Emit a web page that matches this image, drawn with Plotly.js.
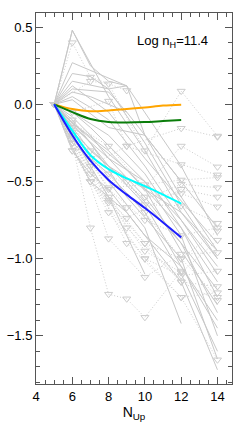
<!DOCTYPE html>
<html><head><meta charset="utf-8">
<script src="https://cdn.plot.ly/plotly-3.0.1.min.js"></script>
<style>html,body{margin:0;padding:0;background:#fff;}#chart{width:240px;height:428px;}</style>
</head><body><div id="chart"></div>
<script>
// Coloured model curves
const modelX = [5, 6, 7, 8, 9, 10, 11, 12];
const orangeY = [0, -0.03, -0.045, -0.04, -0.03, -0.02, -0.008, -0.002];
const greenY  = [0, -0.05, -0.095, -0.115, -0.118, -0.115, -0.108, -0.101];
const cyanY   = [0, -0.17, -0.33, -0.42, -0.48, -0.53, -0.585, -0.643];
const blueY   = [0, -0.2, -0.365, -0.49, -0.585, -0.672, -0.765, -0.862];

// Grey solid lines (x list, y list)
const solidX = [
  [5,6,8,10,12,14],[5,6,9,12,14],[5,6,7,8,9,10,12,14],[5,6,8,10,12,14],
  [5,6,7,9,12,14],[5,6,7,8,10,12,14],[5,6,8,10,12,14],[5,6,7,8,10,12,14],
  [5,6,8,10,12,14],[5,6,7,9,12,14],[5,6,8,10,12,14],[5,6,7,8,9,10],
  [5,6,8,10,12],[5,6,8,10,12,14],[5,6,7,9,12,14],[5,6,7,8,10,12,14],
  [5,6,8,10,12,14],[5,6,7,9,12,14],[5,6,8,9],[5,6,7,8,9,10,12,14],
  [5,6,7,10,12,14],[5,6,8,10,12],[5,7,9,12,14],[5,6,7,8,9],[5,6,8,10,14]
];
const solidY = [
  [0,0.48,0.05,-0.3,-0.7,-1.0],[0,0.27,0.12,-0.4,-0.85],[0,0.2,0.18,0.1,0.12,-0.2,-0.6,-0.95],[0,0.15,0.1,-0.25,-0.65,-1.0],
  [0,0.08,0.05,-0.05,-0.5,-0.8],[0,0.05,-0.02,-0.1,-0.4,-0.75,-1.1],[0,-0.05,-0.2,-0.45,-0.8,-1.15],[0,-0.08,-0.2,-0.35,-0.6,-0.9,-1.2],
  [0,-0.12,-0.3,-0.55,-0.95,-1.3],[0,-0.15,-0.3,-0.5,-0.9,-1.35],[0,-0.18,-0.4,-0.65,-1.05,-1.45],[0,-0.2,-0.4,-0.6,-0.85,-1.1],
  [0,-0.22,-0.5,-0.8,-1.42],[0,-0.25,-0.45,-0.7,-1.1,-1.6],[0,-0.28,-0.5,-0.7,-1.15,-1.72],[0,-0.1,-0.25,-0.4,-0.55,-0.7,-0.95],
  [0,-0.14,-0.35,-0.5,-0.75,-1.05],[0,-0.12,-0.22,-0.42,-0.8,-1.25],[0,0.1,0.08,-0.05],[0,-0.3,-0.45,-0.55,-0.7,-0.85,-1.05,-1.4],
  [0,-0.05,-0.15,-0.5,-0.85,-1.5],[0,0.03,-0.15,-0.2,-0.5],[0,-0.25,-0.6,-1.0,-1.65],[0,0.48,0.25,0.15,0.12],[0,0.12,-0.05,-0.35,-0.9]
];

// Grey dotted lines with open triangle markers
const dotX = [
  [5,6,7,9],[5,7,8,10,12,14],[5,6,8,9,12,14],[5,6,8,10,12,14],
  [5,6,7,9,12,14],[5,6,8,10,12,14],[5,6,8,9,12,14],[5,6,7,9,12,14],
  [5,6,7,8,9,10,12],[5,6,8,10,12,14],[5,6,7,8,10,12,14],[5,6,7,9,10,12,14],
  [5,6,8,10,12,14],[5,6,8,10,12,14],[5,6,8,10,12,14],[5,6,8,10,12,14],
  [5,7,9,12,14],[5,7,9,12,14],[5,7,10,12,14],[5,7,10,12,14],[5,7,10,12,14]
];
const dotY = [
  [0,0.40,0.177,0.09],[0,0.15,0.133,-0.30,0.086,-0.205],[0,-0.05,0.021,-0.27,-0.155,-0.21],[0,-0.12,-0.27,-0.54,-0.27,-0.405],
  [0,-0.15,-0.40,-0.27,-0.39,-0.457],[0,-0.2,-0.54,-0.52,-0.49,-0.474],[0,-0.22,-0.636,-0.668,-0.517,-0.54],[0,-0.3,-0.5,-0.737,-0.55,-0.60],
  [0,-0.25,-0.80,-1.23,-1.26,-1.38,-1.08],[0,-0.18,-0.87,-1.12,-0.97,-0.96],[0,-0.1,-0.35,-0.45,-0.6,-0.578,-0.664],[0,-0.15,-0.3,-0.5,-0.65,-0.657,-0.77],
  [0,-0.2,-0.55,-0.75,-0.85,-0.80],[0,-0.25,-0.6,-0.9,-1.0,-0.82],[0,-0.2,-0.62,-0.95,-1.09,-0.88],[0,-0.3,-0.7,-1.0,-1.11,-1.08],
  [0,-0.4,-0.8,-1.15,-1.18],[0,-0.45,-0.9,-1.25,-1.22],[0,-0.35,-0.7,-1.0,-1.25],[0,-0.5,-0.9,-1.15,-1.27],[0,-0.5,-1.0,-1.25,-1.655]
];

const xTicks = [4, 6, 8, 10, 12, 14];
const yTicks = [0.5, 0.0, -0.5, -1.0, -1.5];

const grey = 'rgb(200,200,200)';
const dotGrey = 'rgb(205,205,205)';
const traces = [];
solidX.forEach((xs, i) => traces.push({
  x: xs, y: solidY[i], type: 'scatter', mode: 'lines',
  line: {color: grey, width: 1}, hoverinfo: 'skip', showlegend: false
}));
dotX.forEach((xs, i) => traces.push({
  x: xs, y: dotY[i], type: 'scatter', mode: 'lines+markers',
  line: {color: dotGrey, width: 1, dash: '1px,2px'},
  marker: {symbol: 'triangle-down-open', size: 7, color: dotGrey, line: {width: 1, color: dotGrey}},
  hoverinfo: 'skip', showlegend: false
}));
const models = [[orangeY, '#ffa500'], [greenY, '#0a7d0a'], [cyanY, '#00ffff'], [blueY, '#1e1eff']];
models.forEach(([ys, c]) => traces.push({
  x: modelX, y: ys, type: 'scatter', mode: 'lines',
  line: {color: c, width: 2, shape: 'spline', smoothing: 1}, showlegend: false
}));

const axisCommon = {
  showline: true, linecolor: '#555', linewidth: 1, mirror: 'ticks',
  ticks: 'inside', ticklen: 7, tickcolor: '#555', tickwidth: 1,
  showgrid: false, zeroline: false,
  tickfont: {family: 'Liberation Sans, Arial, sans-serif', size: 13, color: '#000'}
};

const layout = {
  width: 240, height: 428,
  margin: {l: 36, r: 8, t: 13, b: 44},
  paper_bgcolor: '#fff', plot_bgcolor: '#fff',
  showlegend: false,
  xaxis: Object.assign({}, axisCommon, {
    range: [4, 14.8], tickvals: xTicks, ticktext: xTicks.map(String),
    minor: {dtick: 0.5, tick0: 4, ticks: 'inside', ticklen: 4, tickcolor: '#555'},
    title: {text: 'N<sub>Up</sub>', font: {family: 'Liberation Sans, Arial, sans-serif', size: 14, color: '#000'}, standoff: 4}
  }),
  yaxis: Object.assign({}, axisCommon, {
    range: [-1.812, 0.592], tickvals: yTicks, tickformat: '.1f',
    minor: {dtick: 0.1, tick0: 0, ticks: 'inside', ticklen: 4, tickcolor: '#555'}
  }),
  annotations: [{
    x: 11.5, y: 0.41, xref: 'x', yref: 'y', showarrow: false,
    text: 'Log n<sub>H</sub>=11.4',
    font: {family: 'Liberation Sans, Arial, sans-serif', size: 13, color: '#000'}
  }]
};

Plotly.newPlot('chart', traces, layout, {staticPlot: true, displayModeBar: false});
</script>
</body></html>
